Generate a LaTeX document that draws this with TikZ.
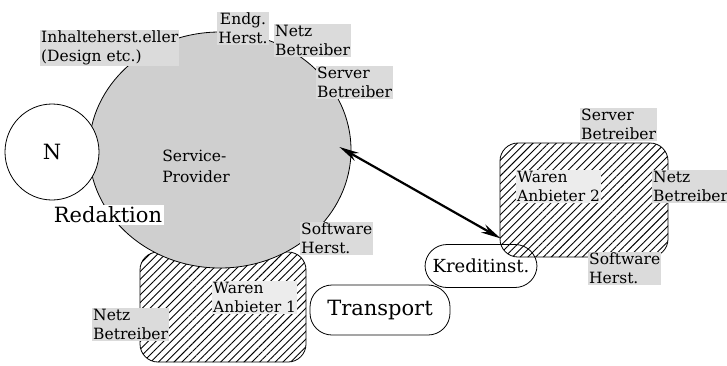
\documentclass[tikz,border=0pt]{standalone}
\usepackage{fontspec}
\setmainfont{DejaVu Serif}
\usepackage{tikz}
\usetikzlibrary{shapes,arrows.meta,positioning,calc,patterns.meta}

\begin{document}
\begin{tikzpicture}[x=1pt, y=-1pt,
    lbl/.style={fill=gray!28, inner sep=1pt, align=left, font=\fontsize{15.5}{19}\selectfont},
    big/.style={font=\fontsize{21}{24}\selectfont},
    hatchbox/.style={draw, thick, rounded corners=18pt, pattern={Lines[angle=45, distance=5.5pt, line width=0.9pt]}},
    pill/.style={draw, thick, fill=white, rounded corners=22pt, big}]
    \useasboundingbox (0,0) rectangle (727,365);

    % the boxes underneath
    \node[hatchbox, minimum width=166pt, minimum height=110pt] (wa1) at (223,307) {};
    \node[pill, minimum width=112pt, minimum height=43pt, font=\fontsize{18}{21}\selectfont] (kr) at (481,266) {Kreditinst.};
    \node[hatchbox, minimum width=168pt, minimum height=114pt] (wa2) at (584,200) {};
    \node[pill, minimum width=140pt, minimum height=50pt] (tr) at (380,310) {Transport};

    % provider and N
    \node[draw, thick, ellipse, fill=gray!38, minimum width=262pt, minimum height=236pt, inner sep=0pt] (sp) at (220,150) {};
    \node[draw, thick, ellipse, fill=white, minimum width=94pt, minimum height=96pt, big] (n) at (52,152) {N};
    \node[align=left, font=\fontsize{15.5}{21}\selectfont] (spl) at (196,166) {Service-\\Provider};

    \draw[{Stealth[length=20pt, width=9pt]}-{Stealth[length=20pt, width=9pt]}, line width=2.2pt]
        ([xshift=-12pt, yshift=3pt]sp.east) -- ([xshift=1pt, yshift=19pt]wa2.south west);

    % labels
    \node[lbl, anchor=north west] (inh) at (40,30) {Inhalteherst.eller\\(Design etc.)};
    \node[lbl, align=center] (endg) at (243,28) {Endg.\\Herst.};
    \node[lbl, anchor=north west] (nb1) at (274,24) {Netz\\Betreiber};
    \node[lbl, anchor=north west] (sb1) at (316,66) {Server\\Betreiber};
    \node[lbl, anchor=north west] (sh1) at (300,222) {Software\\Herst.};
    \node[big, fill=white, inner sep=2pt] (red) at (108,215) {Redaktion};

    \node[lbl, fill=gray!15, anchor=north west] (wal1) at (212,281) {Waren\\Anbieter 1};
    \node[lbl, anchor=north west] (nb2) at (92,308) {Netz\\Betreiber};

    \node[lbl, fill=gray!15, anchor=north west] (wal2) at (516,170) {Waren\\Anbieter 2};
    \node[lbl, anchor=north west] (sb2) at (580,108) {Server\\Betreiber};
    \node[lbl, anchor=north west] (nb3) at (652,170) {Netz\\Betreiber};
    \node[lbl, anchor=north west] (sh2) at (588,252) {Software\\Herst.};
\end{tikzpicture}
\end{document}
